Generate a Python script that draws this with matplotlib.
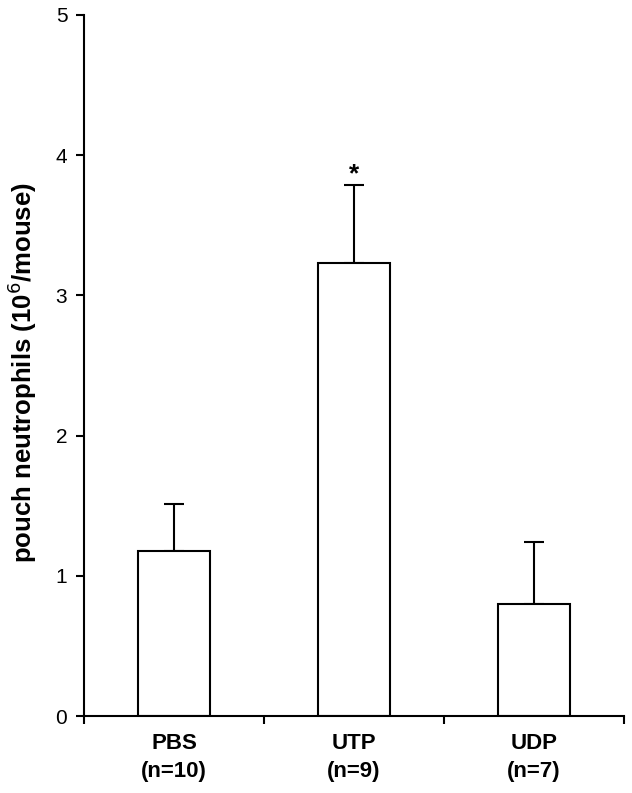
import numpy as np
import matplotlib.pyplot as plt

plt.rcParams['font.family'] = ['Liberation Sans', 'DejaVu Sans']

groups = ['PBS', 'UTP', 'UDP']
n_labels = ['(n=10)', '(n=9)', '(n=7)']
means = [1.18, 3.23, 0.80]
errors = [0.33, 0.56, 0.44]
marks = ['', '*', '']


def main():
    fig = plt.figure(figsize=(6.32, 7.93), dpi=100)
    ax = fig.add_axes([84 / 632, 77 / 793, 540 / 632, 701 / 793])

    x = np.arange(len(groups))
    ax.bar(x, means, width=0.395, color='white', edgecolor='black',
           linewidth=1.5, zorder=2)
    ax.errorbar(x, means, yerr=[np.zeros(len(means)), errors], fmt='none',
                ecolor='black', elinewidth=1.5, capsize=7, capthick=1.5,
                zorder=1)

    for xi, m, e, s in zip(x, means, errors, marks):
        if s:
            ax.text(xi, m + e - 0.01, s, ha='center', va='bottom',
                    fontsize=19, fontweight='bold')

    ax.set_xlim(-0.5, 2.5)
    ax.set_ylim(0, 5)
    ax.set_yticks(range(6))
    ax.set_xticks(x)
    ax.set_xticklabels([g + '\n' + n for g, n in zip(groups, n_labels)],
                       fontsize=16, fontweight='bold', linespacing=1.45)
    ax.set_xticks([-0.5, 0.5, 1.5, 2.5], minor=True)
    ax.tick_params(axis='x', which='major', length=0, pad=12)
    ax.tick_params(axis='x', which='minor', length=6, width=1.5,
                   direction='out')
    ax.tick_params(axis='y', length=6, width=1.5, labelsize=15, pad=6)

    ax.spines['top'].set_visible(False)
    ax.spines['right'].set_visible(False)
    ax.spines['left'].set_linewidth(1.5)
    ax.spines['bottom'].set_linewidth(1.5)

    ax.set_ylabel('pouch neutrophils (10$^{6}$/mouse)', fontsize=18.5,
                  fontweight='bold', va='center')
    ax.yaxis.set_label_coords(-62 / 540, 0.49)

    plt.savefig('out.png', dpi=100)


if __name__ == "__main__":
    main()
